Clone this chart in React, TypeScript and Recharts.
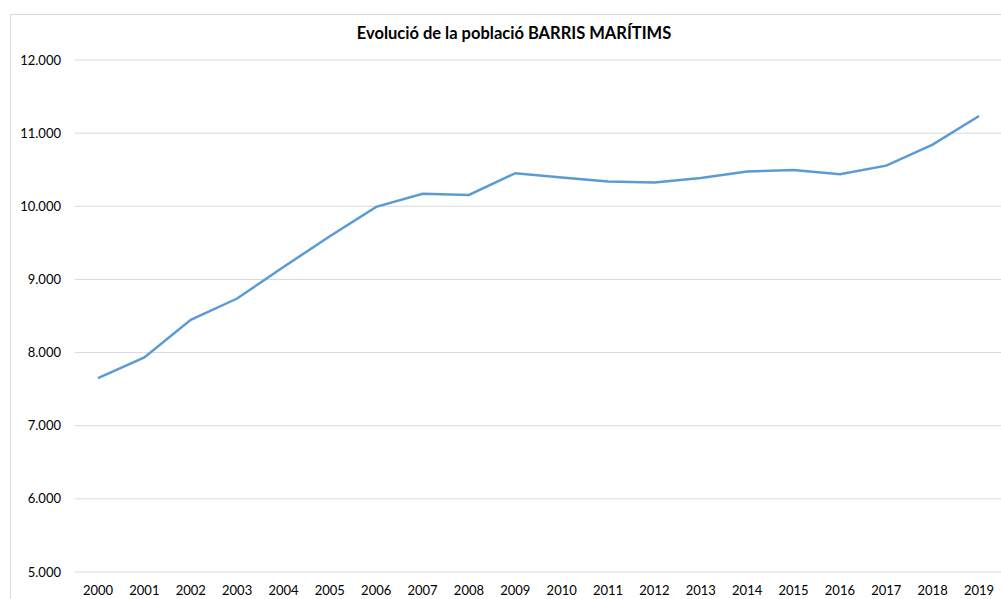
import { LineChart, Line, XAxis, YAxis, CartesianGrid } from "recharts";

const years = [
  "2000", "2001", "2002", "2003", "2004", "2005", "2006", "2007", "2008", "2009",
  "2010", "2011", "2012", "2013", "2014", "2015", "2016", "2017", "2018", "2019",
];

const population = [
  7652, 7933, 8448, 8739, 9170, 9590, 9992, 10170, 10156, 10452,
  10392, 10338, 10324, 10388, 10474, 10497, 10439, 10556, 10843, 11235,
];

const yTicks = [5000, 6000, 7000, 8000, 9000, 10000, 11000, 12000];

const title = "Evolució de la població BARRIS MARÍTIMS";

const data = years.map((year, i) => ({ year, value: population[i] }));

const fmt = (v: number) => v.toLocaleString("de-DE");

export default function App() {
  return (
    <div
      style={{
        position: "fixed",
        left: 0,
        top: 0,
        width: 1001,
        height: 599,
        overflow: "hidden",
        background: "#fff",
        fontFamily: "Lato, sans-serif",
      }}
    >
      {/* chart frame, cut off at right and bottom like the reference */}
      <div
        style={{
          position: "absolute",
          left: 10,
          top: 14,
          width: 1100,
          height: 700,
          border: "1px solid #d9d9d9",
        }}
      />
      <div
        style={{
          position: "absolute",
          left: 0,
          top: 23,
          width: 1028,
          textAlign: "center",
          fontWeight: 700,
          fontSize: 16.5,
          color: "#000",
        }}
      >
        {title}
      </div>
      <div style={{ position: "absolute", left: 0, top: 0 }}>
        <LineChart
          width={1010}
          height={620}
          data={data}
          margin={{ top: 60, right: 8, left: 10, bottom: 18 }}
        >
          <CartesianGrid vertical={false} stroke="#d9d9d9" strokeWidth={1} />
          <XAxis
            dataKey="year"
            axisLine={false}
            tickLine={false}
            tickMargin={8}
            height={30}
            interval={0}
            padding={{ left: 23, right: 23 }}
            tick={{ fontSize: 13, fill: "#000" }}
          />
          <YAxis
            domain={[5000, 12000]}
            ticks={yTicks}
            tickFormatter={fmt}
            axisLine={false}
            tickLine={false}
            tickMargin={8}
            width={65}
            tick={{ fontSize: 13, fill: "#000" }}
          />
          <Line
            type="linear"
            dataKey="value"
            stroke="#5b9bd5"
            strokeWidth={2.5}
            dot={false}
            isAnimationActive={false}
          />
        </LineChart>
      </div>
    </div>
  );
}
